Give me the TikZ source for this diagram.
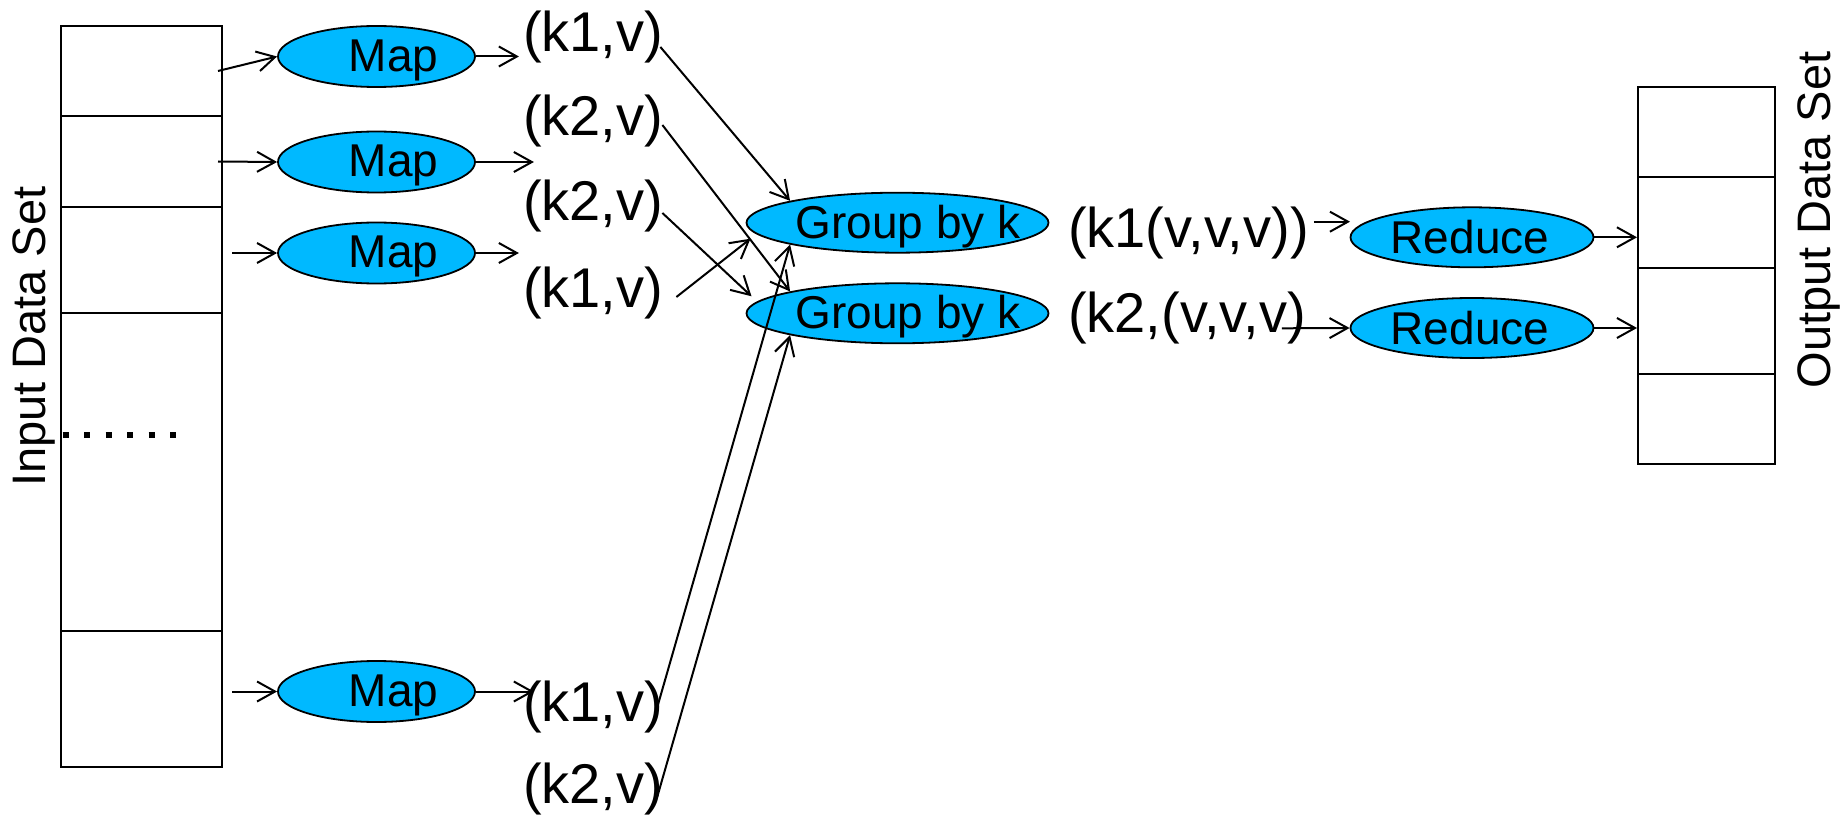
\documentclass[tikz,border=0pt]{standalone}
\usepackage{fontspec}
\setmainfont{Liberation Sans}
\usetikzlibrary{arrows.meta,shapes.geometric}
\definecolor{procfill}{RGB}{0,185,255}
\begin{document}
\begin{tikzpicture}[x=1pt,y=-1pt,
  cell/.style={draw, rectangle, line width=2pt, inner sep=0pt},
  proc/.style={ellipse, draw=black, line width=1.8pt, fill=procfill, inner sep=0pt},
  ptext/.style={inner sep=0pt, anchor=base, font=\fontsize{46}{50}\selectfont},
  pair/.style={inner sep=0pt, anchor=base west, font=\fontsize{56}{60}\selectfont},
  side/.style={inner sep=0pt, anchor=base, rotate=90, font=\fontsize{47}{50}\selectfont},
  flow/.style={line width=2pt, -{Straight Barb[length=18pt,width=20pt]}}]
\useasboundingbox (0,0) rectangle (1845,837);

% input data set column
\node[cell, minimum width=161pt, minimum height=90pt]  (in1) at (141.5,71)    {};
\node[cell, minimum width=161pt, minimum height=91pt]  (in2) at (141.5,161.5) {};
\node[cell, minimum width=161pt, minimum height=106pt] (in3) at (141.5,260)   {};
\node[cell, minimum width=161pt, minimum height=318pt] (in4) at (141.5,472)   {};
\node[cell, minimum width=161pt, minimum height=136pt] (in5) at (141.5,699)   {};
\draw[line width=6.5pt, dash pattern=on 6pt off 15.5pt] (62.5,435) -- (178,435);
\node[side] (inlbl) at (45,336.7) {Input Data Set};

% output data set column
\node[cell, minimum width=137pt, minimum height=90pt]  (out1) at (1706.5,132)   {};
\node[cell, minimum width=137pt, minimum height=91pt]  (out2) at (1706.5,222.5) {};
\node[cell, minimum width=137pt, minimum height=106pt] (out3) at (1706.5,321)   {};
\node[cell, minimum width=137pt, minimum height=90pt]  (out4) at (1706.5,419)   {};
\node[side] (outlbl) at (1830,220) {Output Data Set};

% map tasks
\node[proc, minimum width=197pt, minimum height=61pt] (m1) at (376.5,56.5) {};
\node[proc, minimum width=197pt, minimum height=61pt] (m2) at (376.5,162)  {};
\node[proc, minimum width=197pt, minimum height=61pt] (m3) at (376.5,253)  {};
\node[proc, minimum width=197pt, minimum height=61pt] (m4) at (376.5,691.5) {};
\node[ptext] (m1t) at ([shift={(17,15)}]m1.center) {Map};
\node[ptext] (m2t) at ([shift={(17,15)}]m2.center) {Map};
\node[ptext] (m3t) at ([shift={(17,15)}]m3.center) {Map};
\node[ptext] (m4t) at ([shift={(17,15)}]m4.center) {Map};

% grouping
\node[proc, minimum width=302pt, minimum height=60pt] (g1) at (897.5,222.7) {};
\node[proc, minimum width=302pt, minimum height=60pt] (g2) at (897.5,313.3) {};
\node[ptext] (g1t) at ([shift={(10.5,15.6)}]g1.center) {Group by k};
\node[ptext] (g2t) at ([shift={(10.5,15.6)}]g2.center) {Group by k};

% reduce tasks
\node[proc, minimum width=243pt, minimum height=60pt] (r1) at (1472,237.3) {};
\node[proc, minimum width=243pt, minimum height=60pt] (r2) at (1472,328)   {};
\node[ptext] (r1t) at ([shift={(-2,16)}]r1.center) {Reduce};
\node[ptext] (r2t) at ([shift={(-2,16)}]r2.center) {Reduce};

% intermediate key/value pairs
\node[pair] (kv1) at (523,52)    {(k1,v)};
\node[pair] (kv2) at (523,136)   {(k2,v)};
\node[pair] (kv3) at (523,221)   {(k2,v)};
\node[pair] (kv4) at (523,307)   {(k1,v)};
\node[pair] (kv5) at (523,721.7) {(k1,v)};
\node[pair] (kv6) at (523,803.3) {(k2,v)};
\node[pair] (o1) at (1068,247.7) {(k1(v,v,v))};
\node[pair] (o2) at (1068,332.7) {(k2,(v,v,v)};

% free ends of connectors
\coordinate (m1o) at ([xshift=43pt]m1.east);
\coordinate (m2o) at ([xshift=58pt]m2.east);
\coordinate (m3o) at ([xshift=43pt]m3.east);
\coordinate (m4o) at ([xshift=58pt]m4.east);

% input splits to map tasks
\draw[flow] ([xshift=-5pt]in1.east) -- (m1.west);
\draw[flow] ([xshift=-5pt]in2.east) -- (m2.west);
\draw[flow] ([xshift=-45pt]m3.west) -- (m3.west);
\draw[flow] ([xshift=-45pt]m4.west) -- (m4.west);

% map outputs
\draw[flow] (m1.east) -- (m1o);
\draw[flow] (m2.east) -- (m2o);
\draw[flow] (m3.east) -- (m3o);
\draw[flow] (m4.east) -- (m4o);

% shuffle into the groups
\draw[flow] ([shift={(-3,-5)}]kv1.base east)  -- (g1.north west);
\draw[flow] ([shift={(-1,-11)}]kv2.base east) -- (g2.north west);
\draw[flow] ([shift={(-1,-8)}]kv3.base east)  -- ([shift={(-146,-17)}]g2.center);
\draw[flow] ([shift={(13,-10)}]kv4.base east) -- ([shift={(-147,16)}]g1.center);
\draw[flow] ([shift={(-6,-15)}]kv5.base east) -- (g1.south west);
\draw[flow] ([shift={(-6,-7)}]kv6.base east)  -- (g2.south west);

% grouped values to reduce tasks
\draw[flow] ([shift={(5,-26)}]o1.base east) -- ([shift={(-122,-15.6)}]r1.center);
\draw[flow] ([shift={(-24,-4.4)}]o2.base east) -- (r2.west);

% reduce outputs
\draw[flow] (r1.east) -- (r1.east -| out2.west);
\draw[flow] (r2.east) -- (r2.east -| out3.west);
\end{tikzpicture}
\end{document}
